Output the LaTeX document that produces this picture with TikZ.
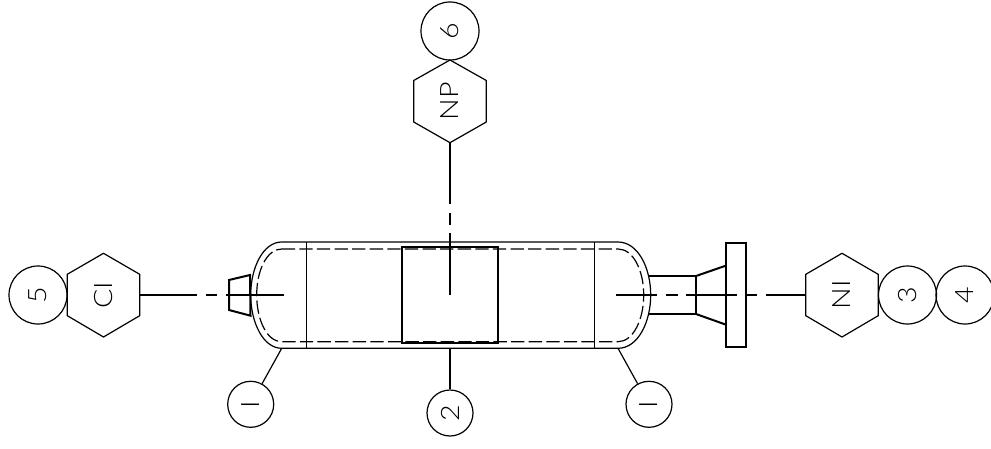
\documentclass[tikz,border=0pt]{standalone}
\usepackage{fontspec}
\setmainfont[FakeStretch=1.13]{Lato Light}
\begin{document}
\begin{tikzpicture}[x=0.75pt,y=-0.75pt,
  thinln/.style={draw=black,line width=0.9pt},
  thickln/.style={draw=black,line width=1.5pt},
  dashln/.style={draw=black,line width=0.9pt,dash pattern=on 10pt off 3.2pt},
  bubble/.style={circle,draw=black,line width=0.9pt,minimum size=43.5pt,inner sep=0pt,font=\fontsize{19pt}{19pt}\selectfont,rotate=90},
  smallbubble/.style={circle,draw=black,line width=0.9pt,minimum size=34.5pt,inner sep=0pt,font=\fontsize{19pt}{19pt}\selectfont,rotate=90},
  hexlabel/.style={inner sep=0pt,font=\fontsize{19pt}{19pt}\selectfont,rotate=90}]
\useasboundingbox (0,0) rectangle (991,449);
\fill[white] (0,0) rectangle (991,449);
% vessel
\draw[thinln] (281.7,242) -- (618,242) .. controls (638,242) and (650.7,268) .. (650.7,295) .. controls (650.7,322) and (638,348.3) .. (618,348.3) -- (281.7,348.3) .. controls (263,348.3) and (250.7,322) .. (250.7,295) .. controls (250.7,268) and (263,242) .. (281.7,242) -- cycle;
\draw[dashln] (281.7,249) -- (618,249) .. controls (633,249) and (643.7,270) .. (643.7,295) .. controls (643.7,320) and (633,341.7) .. (618,341.7) -- (281.7,341.7) .. controls (267,341.7) and (256.7,320) .. (256.7,295) .. controls (256.7,270) and (267,249) .. (281.7,249) -- cycle;
\draw[thinln] (306.5,242) -- (306.5,348.3);
\draw[thinln] (594.3,242) -- (594.3,348.3);
\draw[thickln] (402.3,247.3) rectangle (498,343.3);
% nozzles
\draw[thickln] (250,275) -- (229,280) -- (229,310) -- (250.5,315.7) -- cycle;
\draw[thickln] (648,276) -- (696,276) -- (696,314) -- (648,314);
\draw[thickln] (696,276) -- (726,265.6);
\draw[thickln] (696,314) -- (726,324.7);
\draw[thickln] (726,242.7) rectangle (746,347.3);
% hexagons
\node[hexlabel] (ci) at (103.5,295) {CI};
\node[hexlabel] (np) at (450,101.3) {NP};
\node[hexlabel] (ni) at (842,295) {NI};
\draw[thinln] (103.5,253.3) -- (139.7,274.3) -- (139.7,315.7) -- (103.5,337) -- (67.3,315.7) -- (67.3,274.3) -- cycle;
\draw[thinln] (450,60) -- (486.3,80.5) -- (486.3,122) -- (450,142.7) -- (413.7,122) -- (413.7,80.5) -- cycle;
\draw[thinln] (842,253.3) -- (878.2,274.3) -- (878.2,315.7) -- (842,337) -- (805.8,315.7) -- (805.8,274.3) -- cycle;
% bubbles
\node[bubble] (b5) at (38,295) {5};
\node[bubble] (b6) at (450,31) {6};
\node[bubble] (b3) at (907.5,295) {3};
\node[bubble] (b4) at (965,295) {4};
\node[smallbubble] (bl) at (250.7,404.3) {I};
\node[smallbubble] (bm) at (450,413) {2};
\node[smallbubble] (br) at (649,404.3) {I};
% centre lines
\coordinate (cl) at (284,295);
\coordinate (cr) at (616,295);
\coordinate (cm) at (450,295);
\coordinate (ll) at (281.7,348.3);
\coordinate (lm) at (450,348.3);
\coordinate (lr) at (618,348.3);
\draw[thinln] (ll) -- (bl);
\draw[thinln] (lm) -- (bm);
\draw[thinln] (lr) -- (br);
\draw[thinln,dash pattern=on 42.5pt off 7pt on 8pt off 7pt on 200pt off 1pt] (140,295) -- (cl);
\draw[thinln,dash pattern=on 45.75pt off 6.75pt on 9pt off 6pt on 200pt off 1pt] (450,143) -- (cm);
\draw[thinln,dash pattern=on 30.5pt off 7pt on 8.7pt off 6.3pt on 38pt off 7.5pt on 7.5pt off 7pt on 200pt off 1pt] (cr) -- (806,295);
\end{tikzpicture}
\end{document}
